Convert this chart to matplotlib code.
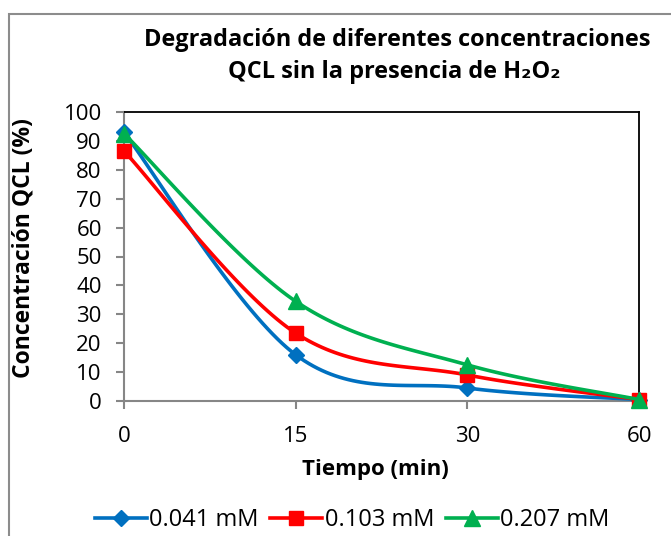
import numpy as np
import matplotlib
matplotlib.use("Agg")
import matplotlib.pyplot as plt
from matplotlib.patches import Rectangle

times = ["0", "15", "30", "60"]
s041 = [93.0, 16.0, 4.5, 0.5]
s103 = [86.5, 23.5, 9.0, 0.5]
s207 = [92.5, 34.5, 12.5, 0.5]
labels = ["0.041 mM", "0.103 mM", "0.207 mM"]
colors = ["#0070C0", "#FF0000", "#00B050"]
markers = ["D", "s", "^"]
msizes = [8, 10, 11]

FONT = "Open Sans"
plt.rcParams["font.family"] = [FONT, "DejaVu Sans"]


def catmull(xs, ys, n=40):
    xs = np.asarray(xs, float)
    ys = np.asarray(ys, float)
    px = np.concatenate([[xs[0]], xs, [xs[-1]]])
    py = np.concatenate([[ys[0]], ys, [ys[-1]]])
    ox, oy = [], []
    for i in range(1, len(px) - 2):
        p0x, p1x, p2x, p3x = px[i - 1], px[i], px[i + 1], px[i + 2]
        p0y, p1y, p2y, p3y = py[i - 1], py[i], py[i + 1], py[i + 2]
        c1x = p1x + (p2x - p0x) / 6
        c1y = p1y + (p2y - p0y) / 6
        c2x = p2x - (p3x - p1x) / 6
        c2y = p2y - (p3y - p1y) / 6
        t = np.linspace(0, 1, n)
        bx = (1 - t) ** 3 * p1x + 3 * (1 - t) ** 2 * t * c1x + 3 * (1 - t) * t ** 2 * c2x + t ** 3 * p2x
        by = (1 - t) ** 3 * p1y + 3 * (1 - t) ** 2 * t * c1y + 3 * (1 - t) * t ** 2 * c2y + t ** 3 * p2y
        ox.extend(bx)
        oy.extend(by)
    return np.array(ox), np.array(oy)


fig = plt.figure(figsize=(6.71, 5.36), dpi=100)
fig.patches.append(Rectangle((9 / 671, -0.1), 1.2, (536 - 14) / 536 + 0.1,
                             transform=fig.transFigure, fill=False,
                             edgecolor="#8c8c8c", linewidth=1.5))

ax = fig.add_axes([124 / 671, (536 - 401) / 536, (639 - 124) / 671, (401 - 112) / 536])
xpos = np.arange(len(times))
handles = []
for ys, c, m, ms, lab in zip([s041, s103, s207], colors, markers, msizes, labels):
    sx, sy = catmull(xpos, ys)
    ax.plot(sx, sy, color=c, lw=2.6, solid_capstyle="round")
    ax.plot(xpos, ys, linestyle="none", marker=m, color=c, markersize=ms)
    h, = ax.plot([], [], color=c, lw=2.6, marker=m, markersize=ms, label=lab)
    handles.append(h)

ax.set_xlim(0, 3)
ax.set_ylim(0, 100)
ax.set_xticks(xpos)
ax.set_xticklabels(times)
ax.set_yticks(np.arange(0, 101, 10))
for s in ["left", "bottom"]:
    ax.spines[s].set_color("#868686")
    ax.spines[s].set_linewidth(1.5)
for s in ["top", "right"]:
    ax.spines[s].set_color("black")
    ax.spines[s].set_linewidth(1.3)
ax.tick_params(axis="both", colors="#868686", width=1.5, length=6, labelcolor="black",
               labelsize=16, direction="out")
ax.tick_params(axis="x", pad=12)
ax.tick_params(axis="y", pad=10)
for sp in ax.spines.values():
    sp.set_zorder(0.5)
for ln in ax.lines:
    ln.set_clip_on(False)

ax.set_xlabel("Tiempo (min)", fontsize=16, fontweight="bold")
ax.xaxis.set_label_coords(0.489, -0.2)
ax.set_ylabel("Concentración QCL (%)", fontsize=16.5, fontweight="bold")
ax.yaxis.set_label_coords(-0.172, 0.53)

fig.text(0.592, 0.925, "Degradación de diferentes concentraciones", ha="center", va="center",
         fontsize=16.9, fontweight="bold")
fig.text(0.587, 0.866, "QCL sin la presencia de H₂O₂", ha="center", va="center",
         fontsize=16.9, fontweight="bold", family=[FONT, "DejaVu Sans"])

fig.legend(handles=handles, loc="center", bbox_to_anchor=(0.525, 0.03), ncol=3,
           frameon=False, fontsize=17, handlelength=2.2, handletextpad=0.1,
           columnspacing=0.5)

fig.savefig("out.png", dpi=100)
